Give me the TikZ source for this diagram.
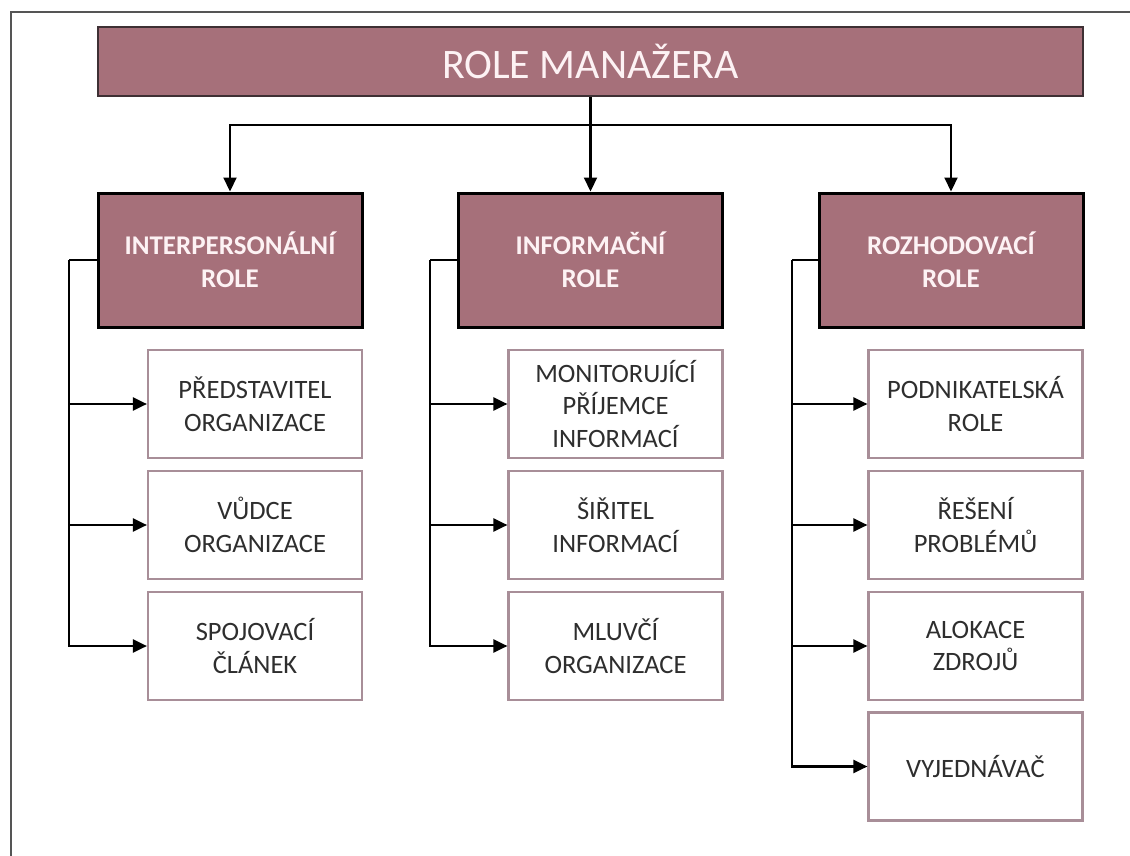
\documentclass[tikz,border=0pt]{standalone}
\usepackage{fontspec}
\setmainfont{Carlito}
\usetikzlibrary{arrows.meta}
\definecolor{mauve}{HTML}{A6707A}
\definecolor{childline}{HTML}{A88E98}
\definecolor{childtext}{HTML}{2E2E2E}
\definecolor{headtext}{HTML}{FDF2F4}
\definecolor{titleline}{HTML}{3E3034}
\definecolor{frameline}{HTML}{555555}
\begin{document}
\begin{tikzpicture}[x=1pt,y=-1pt,
  titlebox/.style={draw=titleline,line width=2.2pt,fill=mauve,minimum width=985pt,minimum height=69pt,inner sep=0pt,
    text=headtext,font=\fontsize{42}{48}\selectfont},
  headbox/.style={draw=black,line width=3pt,fill=mauve,minimum width=264pt,minimum height=134pt,inner sep=0pt,
    text=headtext,align=center,font=\bfseries\fontsize{27}{33}\selectfont},
  childbox/.style={draw=childline,line width=2.2pt,fill=white,minimum width=214pt,minimum height=108pt,inner sep=0pt,
    text=childtext,align=center,font=\fontsize{26.5}{32.5}\selectfont},
  conn/.style={draw=black,line width=2.2pt},
  arr/.style={conn,-{Triangle[length=14pt,width=13pt]}}
]
\useasboundingbox (0,0) rectangle (1130,856);
\begin{scope}
\clip (0,0) rectangle (1130,856);
\draw[frameline,line width=2.6pt] (11,12) rectangle (1160,880);
\end{scope}

\node[titlebox] (title) at (590.5,61.5) {ROLE MANAŽERA};

\node[headbox] (inter) at (230,260) {INTERPERSONÁLNÍ\\ROLE};
\node[headbox] (info) at (590.5,260) {INFORMAČNÍ\\ROLE};
\node[headbox] (roz) at (951,260) {ROZHODOVACÍ\\ROLE};

\node[childbox] (c11) at (255,404) {PŘEDSTAVITEL\\ORGANIZACE};
\node[childbox] (c12) at (255,525) {VŮDCE\\ORGANIZACE};
\node[childbox] (c13) at (255,646) {SPOJOVACÍ\\ČLÁNEK};

\node[childbox] (c21) at (615.5,404) {MONITORUJÍCÍ\\PŘÍJEMCE\\INFORMACÍ};
\node[childbox] (c22) at (615.5,525) {ŠIŘITEL\\INFORMACÍ};
\node[childbox] (c23) at (615.5,646) {MLUVČÍ\\ORGANIZACE};

\node[childbox] (c31) at (975.5,404) {PODNIKATELSKÁ\\ROLE};
\node[childbox] (c32) at (975.5,525) {ŘEŠENÍ\\PROBLÉMŮ};
\node[childbox] (c33) at (975.5,646) {ALOKACE\\ZDROJŮ};
\node[childbox] (c34) at (975.5,766.5) {VYJEDNÁVAČ};

% top connectors
\coordinate (bar) at (590.5,125);
\draw[arr] (title.south) -- (info.north);
\draw[arr] (bar) -| (inter.north);
\draw[arr] (bar) -| (roz.north);

% side trunks
\coordinate (t1) at (69,260);
\coordinate (t2) at (430,260);
\coordinate (t3) at (792,260);
\draw[conn] (inter.west) -- (t1);
\draw[conn] (info.west) -- (t2);
\draw[conn] (roz.west) -- (t3);
\foreach \c in {c11,c12,c13} \draw[arr] (t1) |- (\c.west);
\foreach \c in {c21,c22,c23} \draw[arr] (t2) |- (\c.west);
\foreach \c in {c31,c32,c33,c34} \draw[arr] (t3) |- (\c.west);
\end{tikzpicture}
\end{document}
